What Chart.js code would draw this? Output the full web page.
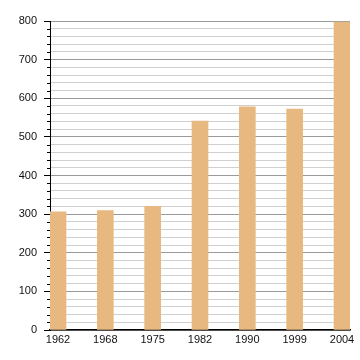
<!DOCTYPE html>
<html>
<head>
<meta charset="utf-8">
<script src="https://cdn.jsdelivr.net/npm/chart.js@4/dist/chart.umd.min.js"></script>
<style>
    html, body { margin: 0; padding: 0; background: #fff; }
    #wrap { width: 360px; height: 360px; }
</style>
</head>
<body>
<div id="wrap"><canvas id="myChart"></canvas></div>
<script>
// datos del grafico
var anios = ['1962', '1968', '1975', '1982', '1990', '1999', '2004'];
var poblacion = [306, 309, 320, 541, 578, 572, 797];
var ticks_y = [0, 100, 200, 300, 400, 500, 600, 700, 800];

var color_barra = '#e7b981';

// marcas cortas del eje y cada 20
var marcas_menores = {
    id: 'marcas_menores',
    afterDraw: function (chart) {
        var y = chart.scales.y;
        var ctx = chart.ctx;
        ctx.save();
        ctx.strokeStyle = '#000';
        ctx.lineWidth = 1;
        for (var v = 0; v <= 800; v += 20) {
            if (v % 100 === 0) continue;
            var py = Math.round(y.getPixelForValue(v)) + 0.5;
            ctx.beginPath();
            ctx.moveTo(y.right - 3, py);
            ctx.lineTo(y.right, py);
            ctx.stroke();
        }
        ctx.restore();
    }
};

var datos = anios.map(function (a, i) {
    return { x: i, y: poblacion[i] };
});

var ctx = document.getElementById('myChart');
var myChart = new Chart(ctx, {
    type: 'bar',
    data: {
        datasets: [{
            data: datos,
            backgroundColor: color_barra,
            borderWidth: 0,
            barThickness: 16
        }]
    },
    plugins: [marcas_menores],
    options: {
        animation: false,
        responsive: true,
        maintainAspectRatio: false,
        layout: { padding: { top: 21, right: 10, left: 0, bottom: 0 } },
        plugins: {
            legend: { display: false },
            tooltip: { enabled: false }
        },
        scales: {
            x: {
                type: 'linear',
                offset: false,
                min: -0.169,
                max: 6.169,
                grid: { display: false, drawTicks: false },
                border: { color: '#000', width: 1.5 },
                afterBuildTicks: function (axis) {
                    axis.ticks = anios.map(function (a, i) { return { value: i }; });
                },
                afterFit: function (axis) { axis.height = 30; },
                ticks: {
                    autoSkip: false,
                    maxRotation: 0,
                    padding: 3,
                    color: '#111',
                    font: { family: 'Liberation Sans', size: 11 },
                    callback: function (v) { return anios[v]; }
                }
            },
            y: {
                min: 0,
                max: 800,
                afterBuildTicks: function (axis) {
                    var t = [];
                    for (var v = 0; v <= 800; v += 20) t.push({ value: v });
                    axis.ticks = t;
                },
                afterFit: function (axis) { axis.width = 50; },
                border: { color: '#000', width: 1 },
                grid: {
                    color: function (c) {
                        return c.tick && c.tick.value % 100 === 0 ? '#9a9a9a' : '#d0d0d0';
                    },
                    tickColor: function (c) {
                        return c.tick && c.tick.value % 100 === 0 ? '#000' : 'rgba(0,0,0,0)';
                    },
                    tickLength: 6,
                    lineWidth: 1
                },
                ticks: {
                    autoSkip: false,
                    padding: 7,
                    color: '#111',
                    font: { family: 'Liberation Sans', size: 11 },
                    callback: function (v) {
                        return ticks_y.indexOf(v) >= 0 ? v : '';
                    }
                }
            }
        }
    }
});
</script>
</body>
</html>
